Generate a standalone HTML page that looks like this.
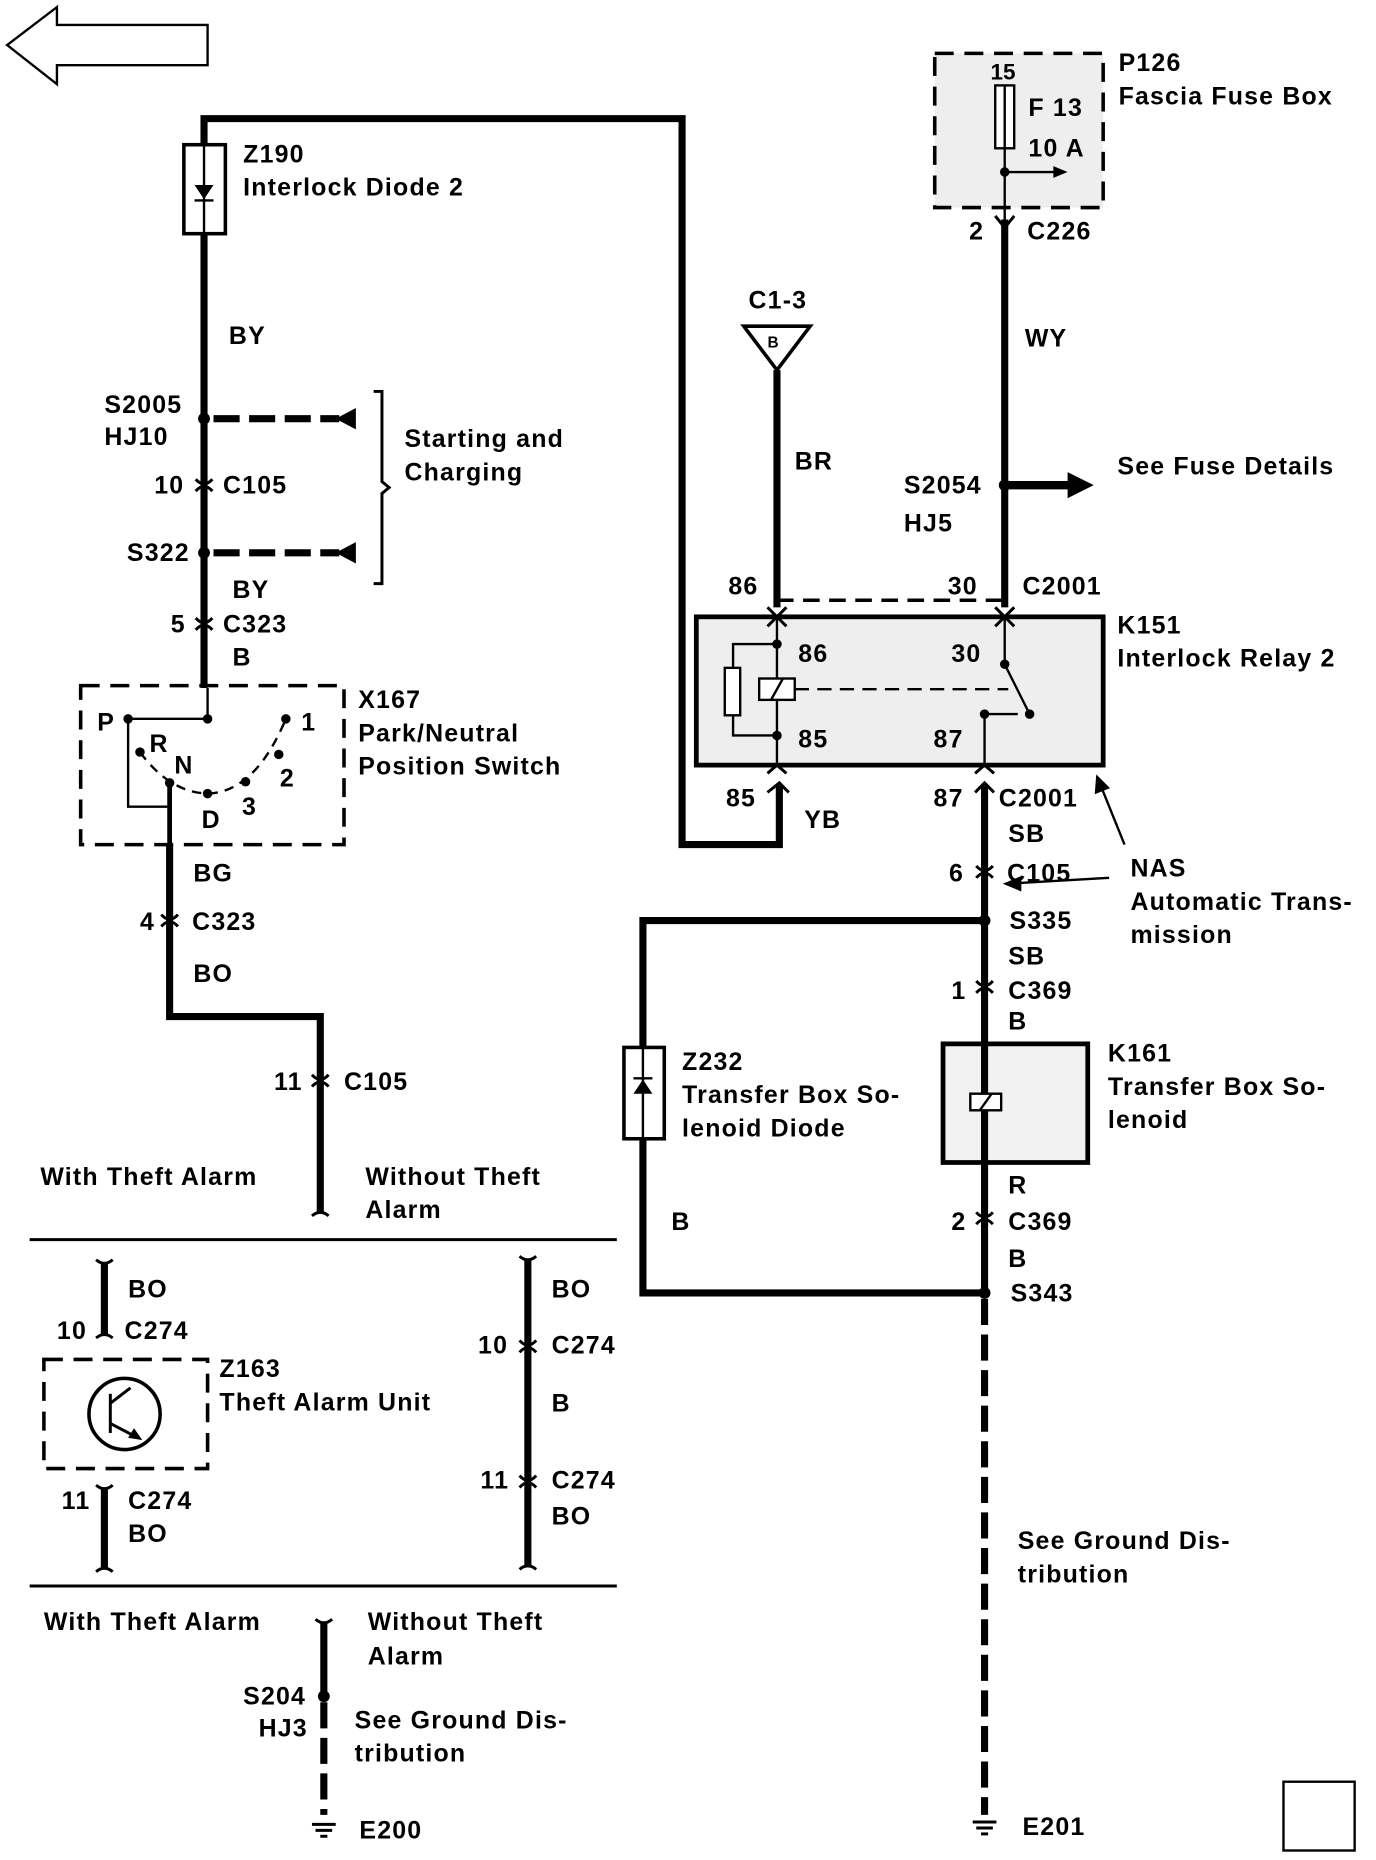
<!DOCTYPE html>
<html><head><meta charset="utf-8"><style>
html,body{margin:0;padding:0;background:#fff;width:1376px;height:1860px;overflow:hidden}
svg{display:block}
text{font-family:"Liberation Sans",sans-serif;font-weight:bold;font-size:21px;fill:#000;letter-spacing:1px}
</style></head><body>
<svg width="1376" height="1860" viewBox="0 0 1160 1568" preserveAspectRatio="none" xmlns="http://www.w3.org/2000/svg">
<g fill="none" stroke="#000" stroke-width="2">
<polygon points="6,38 48,6 48,21 175,21 175,55 48,55 48,71"/>
<rect x="1082" y="1502" width="60" height="58"/>
</g>
<rect x="788" y="45" width="142" height="130" fill="#eee"/>
<rect x="587" y="520" width="343" height="125" fill="#eee" stroke="#000" stroke-width="4"/>
<rect x="795" y="880" width="122" height="100" fill="#f2f2f2" stroke="#000" stroke-width="4"/>
<g fill="none" stroke="#000" stroke-width="3" stroke-dasharray="16,9">
<rect x="788" y="45" width="142" height="130"/>
<rect x="68" y="578" width="222" height="134"/>
<rect x="37" y="1146" width="138" height="92"/>
</g>
<g fill="none" stroke="#000" stroke-width="6">
<polyline points="172,580 172,100 575,100 575,712 657,712 657,662"/>
<line x1="655" y1="312" x2="655" y2="512"/>
<line x1="847" y1="185" x2="847" y2="512"/>
<polyline points="143,712 143,857 270,857 270,1022"/>
<line x1="830" y1="662" x2="830" y2="1090"/>
<polyline points="830,776 542,776 542,1090 830,1090"/>
<line x1="88" y1="1065" x2="88" y2="1125"/>
<line x1="88" y1="1255" x2="88" y2="1322"/>
<line x1="445" y1="1062" x2="445" y2="1320"/>
<line x1="273" y1="1368" x2="273" y2="1430"/>
</g>
<g fill="none" stroke="#000" stroke-width="6" stroke-dasharray="22,8">
<line x1="830" y1="1095" x2="830" y2="1530"/>
<line x1="273" y1="1435" x2="273" y2="1530"/>
<line x1="180" y1="353" x2="286" y2="353"/>
<line x1="180" y1="466" x2="286" y2="466"/>
</g>
<polygon points="283,353 300,344 300,362"/><polygon points="283,466 300,457 300,475"/>
<polygon points="922,409 900,398 900,420"/>
<line x1="847" y1="409" x2="902" y2="409" stroke="#000" stroke-width="7"/>
<g fill="#000">
<circle cx="172" cy="353" r="5"/><circle cx="172" cy="466" r="5"/><circle cx="847" cy="409" r="5"/>
<circle cx="830" cy="776" r="5"/><circle cx="830" cy="1090" r="5"/><circle cx="273" cy="1430" r="5"/>
<circle cx="847" cy="145" r="4"/>
</g>
<g fill="none" stroke="#000" stroke-width="2.5">
<path d="M165,404 Q172,412 179,404 M165,414 Q172,406 179,414"/>
<path d="M165,521 Q172,529 179,521 M165,531 Q172,523 179,531"/>
<path d="M136,771 Q143,779 150,771 M136,781 Q143,773 150,781"/>
<path d="M263,906 Q270,914 277,906 M263,916 Q270,908 277,916"/>
<path d="M823,730 Q830,738 837,730 M823,740 Q830,732 837,740"/>
<path d="M823,827 Q830,835 837,827 M823,837 Q830,829 837,837"/>
<path d="M823,1022 Q830,1030 837,1022 M823,1032 Q830,1024 837,1032"/>
<path d="M438,1130 Q445,1138 452,1130 M438,1140 Q445,1132 452,1140"/>
<path d="M438,1244 Q445,1252 452,1244 M438,1254 Q445,1246 452,1254"/>
<path d="M839,182 L847,192 L855,182"/>
<path d="M839,512 L847,520 L855,512 M839,528 L847,520 L855,528"/>
<path d="M647,512 L655,520 L663,512 M647,528 L655,520 L663,528"/>
<path d="M647,652 L655,645 L663,652 M647,668 L657,660 L665,668"/>
<path d="M822,652 L830,645 L838,652 M822,668 L830,660 L838,668"/>
<path d="M81,1062 Q88,1068 95,1062 M81,1128 Q88,1122 95,1128"/>
<path d="M81,1252 Q88,1258 95,1252 M81,1325 Q88,1319 95,1325"/>
<path d="M438,1059 Q445,1065 452,1059 M438,1323 Q445,1317 452,1323"/>
<path d="M263,1025 Q270,1019 277,1025"/>
<path d="M266,1365 Q273,1371 280,1365"/>
</g>
<line x1="25" y1="1045" x2="520" y2="1045" stroke="#000" stroke-width="2.5"/>
<line x1="25" y1="1337" x2="520" y2="1337" stroke="#000" stroke-width="2.5"/>
<path d="M315,330 L322,330 L322,406 L328,411 L322,416 L322,492 L315,492" fill="none" stroke="#000" stroke-width="2.5"/>
<polygon points="627,275 683,275 655,312" fill="#fff" stroke="#000" stroke-width="3"/>
<text x="647" y="293" style="font-size:13px;letter-spacing:0">B</text>
<rect x="155" y="122" width="35" height="75" fill="#fff" stroke="#000" stroke-width="3"/>
<line x1="172" y1="122" x2="172" y2="197" stroke="#000" stroke-width="2"/>
<polygon points="164,156 180,156 172,168" fill="#000"/><line x1="164" y1="169" x2="180" y2="169" stroke="#000" stroke-width="2"/>
<rect x="526" y="883" width="34" height="77" fill="#fff" stroke="#000" stroke-width="3"/>
<line x1="542" y1="883" x2="542" y2="960" stroke="#000" stroke-width="2"/>
<polygon points="534,922 550,922 542,910" fill="#000"/><line x1="534" y1="909" x2="550" y2="909" stroke="#000" stroke-width="2"/>
<line x1="830" y1="880" x2="830" y2="980" stroke="#000" stroke-width="2"/>
<rect x="818" y="922" width="26" height="14" fill="#fff" stroke="#000" stroke-width="2"/><line x1="826" y1="936" x2="836" y2="922" stroke="#000" stroke-width="2"/>
<rect x="839" y="72" width="16" height="53" fill="#fff" stroke="#000" stroke-width="2"/>
<line x1="847" y1="72" x2="847" y2="185" stroke="#000" stroke-width="2"/>
<line x1="847" y1="145" x2="890" y2="145" stroke="#000" stroke-width="2"/><polygon points="900,145 888,140 888,150"/>
<g fill="none" stroke="#000" stroke-width="2">
<line x1="655" y1="520" x2="655" y2="645"/>
<polyline points="655,543 618,543 618,620 655,620"/>
<rect x="611" y="563" width="13" height="40" fill="#fff"/>
<rect x="640" y="572" width="30" height="18" fill="#fff"/><line x1="650" y1="590" x2="660" y2="572"/>
<line x1="670" y1="581" x2="850" y2="581" stroke-dasharray="12,7"/>
<polyline points="847,520 847,560 868,602"/>
<polyline points="830,645 830,602 858,602"/>
<line x1="935" y1="740" x2="848" y2="745"/><polygon points="848,745 860,740 860,750" fill="#000"/>
<line x1="948" y1="712" x2="925" y2="655"/><polygon points="925,655 924,668 934,664" fill="#000"/>
</g>
<g fill="#000"><circle cx="655" cy="543" r="4"/><circle cx="655" cy="620" r="4"/><circle cx="847" cy="560" r="4"/><circle cx="868" cy="602" r="4"/><circle cx="830" cy="602" r="4"/></g>
<line x1="655" y1="506" x2="847" y2="506" stroke="#000" stroke-width="3" stroke-dasharray="14,8"/>
<g fill="none" stroke="#000" stroke-width="2">
<line x1="108" y1="606" x2="175" y2="606"/><line x1="175" y1="580" x2="175" y2="606"/>
<polyline points="108,606 108,680 143,680"/><line x1="143" y1="660" x2="143" y2="712" stroke-width="4"/>
<path d="M118,634 Q143,668 175,669 Q215,668 241,606" stroke-dasharray="8,6"/>
</g>
<g fill="#000"><circle cx="108" cy="606" r="4"/><circle cx="175" cy="606" r="4"/><circle cx="241" cy="606" r="4"/><circle cx="118" cy="634" r="4"/><circle cx="143" cy="660" r="4"/><circle cx="175" cy="669" r="4"/><circle cx="207" cy="659" r="4"/><circle cx="235" cy="636" r="4"/></g>
<circle cx="105" cy="1192" r="30" fill="none" stroke="#000" stroke-width="3"/>
<g stroke="#000" stroke-width="2.5" fill="none"><line x1="93" y1="1175" x2="93" y2="1208"/><line x1="93" y1="1183" x2="110" y2="1170"/><line x1="93" y1="1200" x2="116" y2="1212"/></g>
<polygon points="120,1214 108,1212 113,1204"/>
<g stroke="#000" stroke-width="2.5"><line x1="263" y1="1538" x2="283" y2="1538"/><line x1="266" y1="1543" x2="280" y2="1543"/><line x1="270" y1="1548" x2="276" y2="1548"/>
<line x1="820" y1="1536" x2="840" y2="1536"/><line x1="823" y1="1541" x2="837" y2="1541"/><line x1="827" y1="1546" x2="833" y2="1546"/></g>
<text x="205" y="137">Z190</text><text x="205" y="165">Interlock Diode 2</text>
<text x="193" y="290">BY</text>
<text x="88" y="348">S2005</text><text x="88" y="375">HJ10</text>
<text x="130" y="416">10</text><text x="188" y="416">C105</text>
<text x="107" y="473">S322</text>
<text x="341" y="377">Starting and</text><text x="341" y="405">Charging</text>
<text x="196" y="504">BY</text>
<text x="144" y="533">5</text><text x="188" y="533">C323</text><text x="196" y="561">B</text>
<text x="302" y="597">X167</text><text x="302" y="625">Park/Neutral</text><text x="302" y="653">Position Switch</text>
<text x="82" y="616">P</text><text x="254" y="616">1</text><text x="126" y="634">R</text><text x="147" y="652">N</text><text x="170" y="698">D</text><text x="204" y="687">3</text><text x="236" y="663">2</text>
<text x="163" y="743">BG</text><text x="118" y="784">4</text><text x="162" y="784">C323</text><text x="163" y="828">BO</text>
<text x="231" y="919">11</text><text x="290" y="919">C105</text>
<text x="34" y="999">With Theft Alarm</text><text x="308" y="999">Without Theft</text><text x="308" y="1027">Alarm</text>
<text x="108" y="1094">BO</text><text x="48" y="1129">10</text><text x="105" y="1129">C274</text>
<text x="185" y="1161">Z163</text><text x="185" y="1189">Theft Alarm Unit</text>
<text x="52" y="1272">11</text><text x="108" y="1272">C274</text><text x="108" y="1300">BO</text>
<text x="465" y="1094">BO</text><text x="403" y="1141">10</text><text x="465" y="1141">C274</text><text x="465" y="1190">B</text>
<text x="405" y="1255">11</text><text x="465" y="1255">C274</text><text x="465" y="1285">BO</text>
<text x="37" y="1374">With Theft Alarm</text><text x="310" y="1374">Without Theft</text><text x="310" y="1403">Alarm</text>
<text x="205" y="1437">S204</text><text x="218" y="1464">HJ3</text>
<text x="299" y="1457">See Ground Dis-</text><text x="299" y="1485">tribution</text>
<text x="303" y="1550">E200</text>
<text x="835" y="67" style="font-size:19px;letter-spacing:0">15</text><text x="867" y="98">F 13</text><text x="867" y="132">10 A</text>
<text x="943" y="60">P126</text><text x="943" y="88">Fascia Fuse Box</text>
<text x="817" y="202">2</text><text x="866" y="202">C226</text>
<text x="631" y="260">C1-3</text>
<text x="864" y="292">WY</text><text x="670" y="396">BR</text>
<text x="762" y="416">S2054</text><text x="762" y="448">HJ5</text><text x="942" y="400">See Fuse Details</text>
<text x="614" y="501">86</text><text x="799" y="501">30</text><text x="862" y="501">C2001</text>
<text x="942" y="534">K151</text><text x="942" y="562">Interlock Relay 2</text>
<text x="673" y="558">86</text><text x="802" y="558">30</text><text x="673" y="630">85</text><text x="787" y="630">87</text>
<text x="612" y="680">85</text><text x="678" y="698">YB</text><text x="787" y="680">87</text><text x="842" y="680">C2001</text>
<text x="850" y="710">SB</text><text x="800" y="743">6</text><text x="849" y="743">C105</text>
<text x="953" y="739">NAS</text><text x="953" y="767">Automatic Trans-</text><text x="953" y="795">mission</text>
<text x="851" y="783">S335</text><text x="850" y="813">SB</text><text x="802" y="842">1</text><text x="850" y="842">C369</text><text x="850" y="868">B</text>
<text x="934" y="895">K161</text><text x="934" y="923">Transfer Box So-</text><text x="934" y="951">lenoid</text>
<text x="575" y="902">Z232</text><text x="575" y="930">Transfer Box So-</text><text x="575" y="958">lenoid Diode</text>
<text x="566" y="1037">B</text>
<text x="850" y="1006">R</text><text x="802" y="1037">2</text><text x="850" y="1037">C369</text><text x="850" y="1068">B</text><text x="852" y="1097">S343</text>
<text x="858" y="1306">See Ground Dis-</text><text x="858" y="1334">tribution</text>
<text x="862" y="1547">E201</text>
</svg>
</body></html>
